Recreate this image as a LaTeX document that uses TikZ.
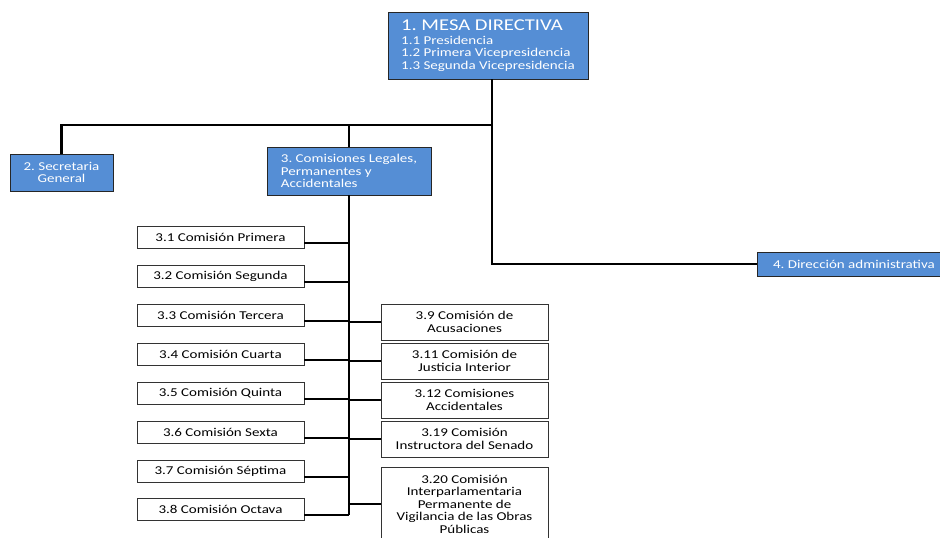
\documentclass[tikz,border=0pt]{standalone}
\usepackage{fontspec}
\setmainfont{Carlito}[FakeStretch=1.25]
\frenchspacing
\usetikzlibrary{positioning}
\definecolor{boxblue}{RGB}{85,142,213}
\tikzset{
	bluebox/.style={draw=black!85, line width=0.8pt, outer sep=0pt, fill=boxblue, text=white,
		font=\fontsize{12}{12.5}\selectfont, align=left},
	whitebox/.style={draw=black!80, line width=0.8pt, outer sep=0pt, fill=white,
		font=\fontsize{12}{12.5}\selectfont, align=center, minimum width=167pt, inner sep=1pt},
	leftbox/.style={whitebox, minimum height=22pt},
	rightbox/.style={whitebox, minimum height=36pt},
	link/.style={draw, line width=2.2pt}
}
\begin{document}
\begin{tikzpicture}[x=1pt, y=-1pt]
		\path[use as bounding box, clip] (0,0) rectangle (940,538);

		\node (mesa) [bluebox, anchor=north west, minimum width=200pt, minimum height=67pt, inner sep=2pt] at (388,12)
			{{\fontsize{16.5}{17}\selectfont 1. MESA DIRECTIVA}\\[1pt]1.1 Presidencia\\1.2 Primera Vicepresidencia\\1.3 Segunda Vicepresidencia};
		\node (sec) [bluebox, anchor=north west, align=center, minimum width=103pt, minimum height=37pt, inner sep=1pt] at (10,154)
			{2. Secretaria\\General};
		\node (com) [bluebox, anchor=north west, minimum width=164pt, minimum height=48pt, inner sep=2pt] at (267,147)
			{3. Comisiones Legales,\\Permanentes y\\Accidentales};
		\node (dir) [bluebox, anchor=north west, inner xsep=16pt, minimum height=24pt] at (757,252)
			{4. Dirección administrativa};

		% left column
		\node (b31) [leftbox, anchor=north west] at (137,226) {3.1 Comisión Primera};
		\node (b32) [leftbox, below=17pt of b31] {3.2 Comisión Segunda};
		\node (b33) [leftbox, below=17pt of b32] {3.3 Comisión Tercera};
		\node (b34) [leftbox, below=17pt of b33] {3.4 Comisión Cuarta};
		\node (b35) [leftbox, below=17pt of b34] {3.5 Comisión Quinta};
		\node (b36) [leftbox, below=17pt of b35] {3.6 Comisión Sexta};
		\node (b37) [leftbox, below=17pt of b36] {3.7 Comisión Séptima};
		\node (b38) [leftbox, below=16pt of b37] {3.8 Comisión Octava};

		% right column
		\node (b39) [rightbox, anchor=north west] at (381,304) {3.9 Comisión de\\Acusaciones};
		\node (b311) [rightbox, below=3pt of b39] {3.11 Comisión de\\Justicia Interior};
		\node (b312) [rightbox, below=3pt of b311] {3.12 Comisiones\\Accidentales};
		\node (b319) [rightbox, below=3pt of b312] {3.19 Comisión\\Instructora del Senado};
		\node (b320) [whitebox, minimum height=74pt, below=10pt of b319]
			{3.20 Comisión\\Interparlamentaria\\Permanente de\\Vigilancia de las Obras\\Públicas};

		\coordinate (trunk) at ([xshift=4pt]mesa.south);
		\coordinate (bus) at (0,125);

		\draw[link] (trunk) -- (trunk |- dir.west) -- (dir.west);
		\draw[link] (sec.north) -- (sec.north |- bus) -- (trunk |- bus);
		\draw[link] (com.north) -- (com.north |- bus);
		\draw[link] (com.south) -- (com.south |- b38.-4);
		\foreach \n in {31,...,38}
			\draw[link] (b\n.-4) -- (b\n.-4 -| com.south);
		\foreach \n in {39,311,312,319,320}
			\draw[link] (b\n.west) -- (b\n.west -| com.south);
\end{tikzpicture}
\end{document}
